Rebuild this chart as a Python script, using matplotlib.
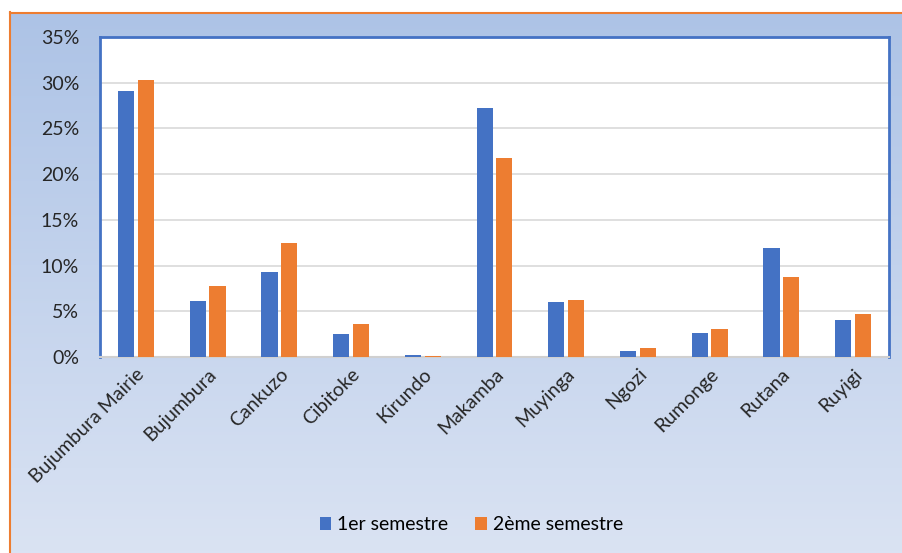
import matplotlib.pyplot as plt
import numpy as np

provinces = ["Bujumbura Mairie", "Bujumbura", "Cankuzo", "Cibitoke", "Kirundo", "Makamba",
             "Muyinga", "Ngozi", "Rumonge", "Rutana", "Ruyigi"]
sem1 = [29.1, 6.1, 9.3, 2.5, 0.2, 27.2, 6.0, 0.65, 2.6, 11.9, 4.0]
sem2 = [30.3, 7.8, 12.5, 3.6, 0.15, 21.8, 6.2, 1.0, 3.1, 8.75, 4.7]
series_names = ["1er semestre", "2ème semestre"]
yticks = [0, 5, 10, 15, 20, 25, 30, 35]

blue = "#4472c4"
orange = "#ed7d31"

plt.rcParams['font.family'] = ['Lato', 'DejaVu Sans']

W, H = 903, 553
fig = plt.figure(figsize=(W / 100, H / 100), dpi=100, facecolor="white")

# background panel with vertical gradient and orange border
bg = fig.add_axes([10 / W, 0, 1 - 10 / W, 1 - 12 / H])
grad = np.linspace(0, 1, 256).reshape(-1, 1)
top_c = np.array([0.678, 0.765, 0.902])
bot_c = np.array([0.855, 0.890, 0.953])
img = top_c + (bot_c - top_c) * grad[:, :, None]
bg.imshow(img, aspect="auto", extent=[0, 1, 0, 1], origin="upper")
bg.set_xlim(0, 1)
bg.set_ylim(0, 1)
bg.axis("off")
fig.add_artist(plt.Line2D([10 / W, 1], [1 - 12.5 / H, 1 - 12.5 / H], color=orange, lw=1.5,
                          transform=fig.transFigure))
fig.add_artist(plt.Line2D([10.5 / W, 10.5 / W], [0, 1 - 12 / H], color=orange, lw=1.5,
                          transform=fig.transFigure))

# plot area
left, right, top, bottom = 100, 889, 37, 357
ax = fig.add_axes([left / W, 1 - bottom / H, (right - left) / W, (bottom - top) / H])
ax.set_facecolor("white")
x = np.arange(len(provinces))
bw = 0.225
gap = 0.05
ax.bar(x - (bw + gap) / 2, sem1, width=bw, color=blue, label=series_names[0], zorder=3)
ax.bar(x + (bw + gap) / 2, sem2, width=bw, color=orange, label=series_names[1], zorder=3)

ax.set_xlim(-0.5, len(provinces) - 0.5)
ax.set_ylim(0, 35)
ax.set_yticks(yticks)
ax.set_yticklabels([f"{v}%" for v in yticks], fontsize=14, color="#262626")
ax.yaxis.grid(True, color="#d9d9d9", lw=1.2, zorder=0)
ax.tick_params(axis="y", length=0, pad=15)
ax.tick_params(axis="x", length=0, pad=6)
ax.set_xticks(x)
ax.set_xticklabels(provinces, rotation=45, ha="right", rotation_mode="anchor",
                   fontsize=14, color="#262626")

for s in ["top", "right", "left"]:
    ax.spines[s].set_color(blue)
    ax.spines[s].set_linewidth(2)
ax.spines["bottom"].set_color("#d0d0d0")
ax.spines["bottom"].set_linewidth(1.5)

fig.legend(loc="center", bbox_to_anchor=(0.522, 1 - 525 / H), ncol=2, frameon=False,
           fontsize=14, handlelength=0.6, handleheight=0.6, handletextpad=0.3,
           columnspacing=1.4)

fig.savefig("out.png", dpi=100)
